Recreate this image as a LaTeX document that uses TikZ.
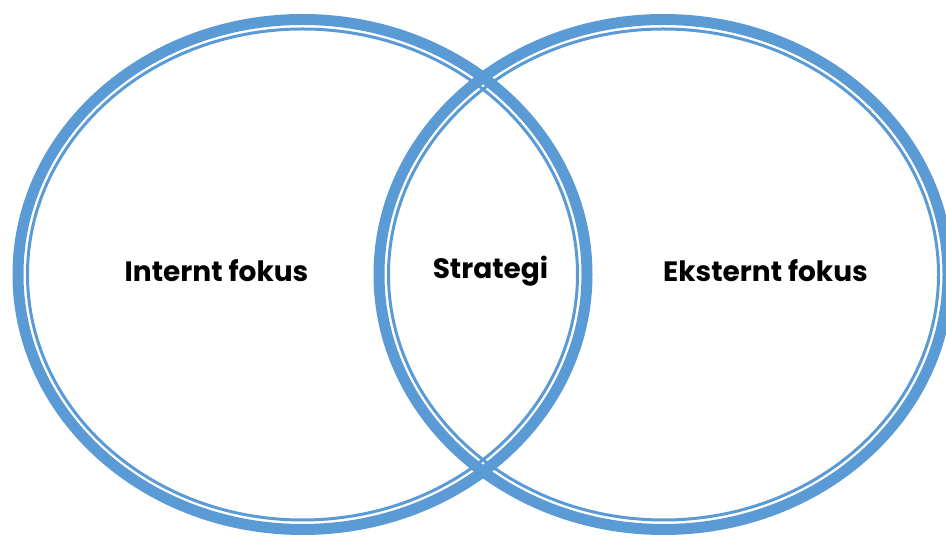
\documentclass[tikz,border=0pt]{standalone}
\usepackage{fontspec}
\setmainfont{Poppins}
\usetikzlibrary{shapes.geometric}
\definecolor{ringblue}{HTML}{5B9BD5}
\begin{document}
\begin{tikzpicture}[x=1pt,y=1pt,
  ring/.style={ellipse,draw=ringblue,line width=11pt,inner sep=0pt,outer sep=0pt,
    minimum width=569pt,minimum height=510pt},
  innerring/.style={ellipse,draw=ringblue,line width=3pt,inner sep=0pt,outer sep=0pt,
    minimum width=550pt,minimum height=491pt},
  label/.style={font=\bfseries\fontsize{28}{34}\selectfont,text=black}]
\useasboundingbox (0,0) rectangle (946,538);
% two overlapping rings, each a heavy band with a thin inner line
\node[ring] (left) at (302.5,263.5) {};
\node[innerring] (leftin) at (302.5,263.5) {};
\node[ring] (right) at (663.5,263.5) {};
\node[innerring] (rightin) at (663.5,263.5) {};
% captions
\node[label] (intern) at (216.5,267) {Internt fokus};
\node[label] (strat) at (490.5,267) {Strategi};
\node[label] (ekstern) at (765.5,267) {Eksternt fokus};
\end{tikzpicture}
\end{document}
